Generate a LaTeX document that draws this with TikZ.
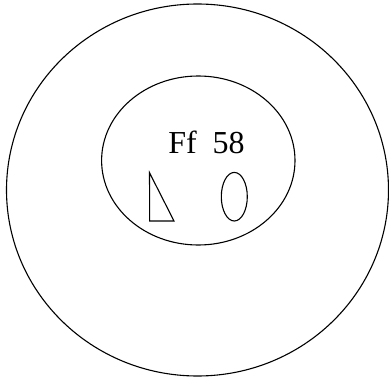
\documentclass[tikz,border=0pt]{standalone}
\usepackage{fontspec}
\setmainfont{Liberation Serif}
\begin{document}
\begin{tikzpicture}[x=1pt,y=-1pt,line width=1pt,
  outline/.style={draw=black,line width=1.1pt}]
\useasboundingbox (0,0) rectangle (389,380);
\draw[outline] (197.5,190) ellipse [x radius=191, y radius=186];
\draw[outline] (198.3,160.5) ellipse [x radius=96.7, y radius=84.5];
\node[anchor=base,inner sep=0pt,font=\fontsize{32}{38}\selectfont] (lbl) at (206.5,153) {Ff\ \ 58};
\draw[outline] (149.5,172.7) -- (149.7,221) -- (174,221) -- cycle;
\draw[outline] (234.3,196.7) ellipse [x radius=13, y radius=24.3];
\end{tikzpicture}
\end{document}
